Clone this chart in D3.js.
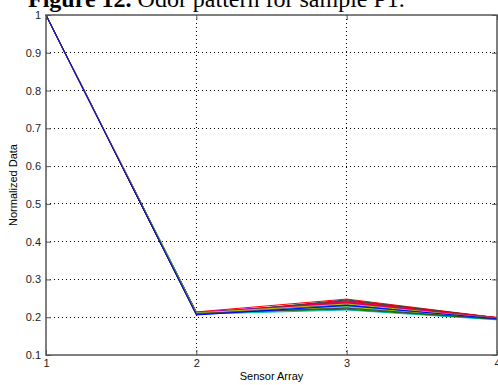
<!DOCTYPE html>
<html>
<head>
<meta charset="utf-8">
<script src="https://cdn.jsdelivr.net/npm/d3@7"></script>
<style>
  body { margin: 0; background: #fff; }
  svg { display: block; }
  .tick text { font-family: "Liberation Sans", Arial, sans-serif; font-size: 11px; fill: #222; }
</style>
</head>
<body>
<div id="chart"></div>
<script>
// sensor positions on x axis
var sensors = [1, 2, 3, 4];
var xTicks = [1, 2, 3, 4];
var yTicks = [0.1, 0.2, 0.3, 0.4, 0.5, 0.6, 0.7, 0.8, 0.9, 1];

// normalized readings per sample at each sensor
var sensor1 = [1, 1, 1, 1, 1, 1, 1, 1, 1, 1, 1, 1, 1, 1, 1, 1, 1, 1, 1, 1, 1, 1];
var sensor2 = [0.212, 0.209, 0.214, 0.208, 0.211, 0.213, 0.207, 0.210, 0.212, 0.209, 0.208,
               0.213, 0.211, 0.207, 0.210, 0.214, 0.209, 0.212, 0.208, 0.211, 0.210, 0.206];
var sensor3 = [0.238, 0.226, 0.248, 0.222, 0.241, 0.229, 0.244, 0.232, 0.236, 0.243, 0.219,
               0.240, 0.227, 0.246, 0.234, 0.221, 0.239, 0.230, 0.237, 0.235, 0.224, 0.231];
var sensor4 = [0.198, 0.197, 0.199, 0.194, 0.198, 0.196, 0.199, 0.197, 0.196, 0.199, 0.193,
               0.197, 0.196, 0.198, 0.197, 0.195, 0.199, 0.198, 0.197, 0.196, 0.195, 0.196];

// old matlab colour order
var colorOrder = ["#0000ff", "#008000", "#ff0000", "#00bfbf", "#bf00bf", "#bfbf00", "#404040"];

var title = "Figure 12.";
var titleRest = " Odor pattern for sample P1.";

var W = 498, H = 385;
var margin = {top: 15, right: 1, bottom: 30, left: 46},
    width = W - margin.left - margin.right,
    height = H - margin.top - margin.bottom;

var svg = d3.select("#chart").append("svg")
    .attr("width", W)
    .attr("height", H);

var t = svg.append("text")
    .attr("x", 28)
    .attr("y", 7)
    .attr("font-family", "'Liberation Serif', 'Times New Roman', serif")
    .attr("font-size", 24)
    .attr("fill", "#000");
t.append("tspan").attr("font-weight", "bold").text(title);
t.append("tspan").text(titleRest);

var g = svg.append("g")
    .attr("transform", "translate(" + margin.left + "," + margin.top + ")");

var x = d3.scaleLinear().domain([1, 4]).range([0, width]);
var y = d3.scaleLinear().domain([0.1, 1]).range([height, 0]);

// grid
g.append("g")
    .selectAll("line.gx")
    .data(xTicks.slice(1, -1))
    .enter().append("line")
    .attr("x1", function(d) { return x(d); })
    .attr("x2", function(d) { return x(d); })
    .attr("y1", 0).attr("y2", height)
    .attr("stroke", "#000").attr("stroke-width", 1)
    .attr("stroke-dasharray", "1,3")
    .attr("shape-rendering", "crispEdges");

g.append("g")
    .selectAll("line.gy")
    .data(yTicks.slice(1, -1))
    .enter().append("line")
    .attr("y1", function(d) { return y(d); })
    .attr("y2", function(d) { return y(d); })
    .attr("x1", 0).attr("x2", width)
    .attr("stroke", "#000").attr("stroke-width", 1)
    .attr("stroke-dasharray", "1,3")
    .attr("shape-rendering", "crispEdges");

// lines
var rows = sensor1.map(function(v, i) {
    return [sensor1[i], sensor2[i], sensor3[i], sensor4[i]];
});

var line = d3.line()
    .x(function(d, i) { return x(sensors[i]); })
    .y(function(d) { return y(d); });

g.selectAll(".series")
    .data(rows)
    .enter().append("path")
    .attr("class", "series")
    .attr("d", line)
    .attr("fill", "none")
    .attr("stroke", function(d, i) { return colorOrder[i % colorOrder.length]; })
    .attr("stroke-width", 1);

// axes (ticks pointing inward)
var axisColor = "#555";
g.append("g")
    .attr("transform", "translate(0," + height + ")")
    .call(d3.axisBottom(x).tickValues(xTicks).tickFormat(d3.format("d")).tickSizeInner(-5).tickSizeOuter(0).tickPadding(4))
    .call(function(a) { a.select(".domain").remove(); a.selectAll("line").attr("stroke", axisColor); });

g.append("g")
    .call(d3.axisTop(x).tickValues(xTicks).tickFormat("").tickSizeInner(-5).tickSizeOuter(0))
    .call(function(a) { a.select(".domain").remove(); a.selectAll("line").attr("stroke", axisColor); });

g.append("g")
    .call(d3.axisLeft(y).tickValues(yTicks).tickFormat(function(d) { return d === 1 ? "1" : d3.format(".1f")(d); }).tickSizeInner(-5).tickSizeOuter(0).tickPadding(5))
    .call(function(a) { a.select(".domain").remove(); a.selectAll("line").attr("stroke", axisColor); });

g.append("g")
    .attr("transform", "translate(" + width + ",0)")
    .call(d3.axisRight(y).tickValues(yTicks).tickFormat("").tickSizeInner(-5).tickSizeOuter(0))
    .call(function(a) { a.select(".domain").remove(); a.selectAll("line").attr("stroke", axisColor); });

g.append("rect")
    .attr("x", 0).attr("y", 0)
    .attr("width", width).attr("height", height)
    .attr("fill", "none")
    .attr("stroke", axisColor)
    .attr("stroke-width", 1.5);

// labels
svg.append("text")
    .attr("x", margin.left + width / 2)
    .attr("y", 380)
    .attr("text-anchor", "middle")
    .attr("font-family", "'Liberation Sans', Arial, sans-serif")
    .attr("font-size", 11)
    .text("Sensor Array");

svg.append("text")
    .attr("transform", "translate(17," + (margin.top + height / 2) + ") rotate(-90)")
    .attr("text-anchor", "middle")
    .attr("font-family", "'Liberation Sans', Arial, sans-serif")
    .attr("font-size", 11)
    .text("Normalized Data");
</script>
</body>
</html>
